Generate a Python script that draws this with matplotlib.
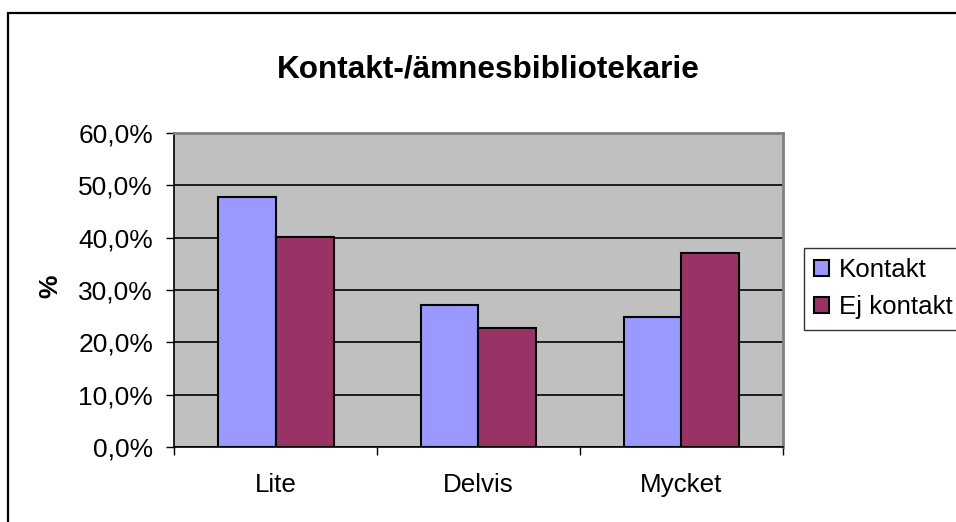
import matplotlib.pyplot as plt
import matplotlib.patches as patches
import numpy as np

# Data
categories = ['Lite', 'Delvis', 'Mycket']
kontakt = [47.7, 27.1, 24.8]
ej_kontakt = [40.1, 22.8, 37.0]
y_ticks = [0, 10, 20, 30, 40, 50, 60]
y_tick_labels = ['0,0%', '10,0%', '20,0%', '30,0%', '40,0%', '50,0%', '60,0%']

plt.rcParams['font.family'] = ['Liberation Sans', 'DejaVu Sans']

W, H = 956, 522
fig = plt.figure(figsize=(W / 100, H / 100), dpi=100)
fig.patch.set_facecolor('white')

# plot area in pixels: x 174..783, y 133..447
ax = fig.add_axes([174 / W, 1 - 447 / H, (783 - 174) / W, (447 - 133) / H])
ax.set_facecolor('#C0C0C0')

x = np.arange(len(categories))
bw = 1 / 3.5
ax.bar(x - bw / 2, kontakt, bw, color='#9999FF', edgecolor='black', linewidth=1.5,
       label='Kontakt', zorder=3)
ax.bar(x + bw / 2, ej_kontakt, bw, color='#993366', edgecolor='black', linewidth=1.5,
       label='Ej kontakt', zorder=3)

ax.set_xlim(-0.5, len(categories) - 0.5)
ax.set_ylim(0, 60)
ax.set_yticks(y_ticks)
ax.set_yticklabels(y_tick_labels, fontsize=19)
ax.yaxis.grid(True, color='black', linewidth=1.2, zorder=1)
ax.set_axisbelow(True)

# category labels between the tick marks
ax.set_xticks(x)
ax.set_xticklabels(categories, fontsize=18.7)
ax.tick_params(axis='x', length=0, pad=19)
ax.set_xticks(np.arange(len(categories) + 1) - 0.5, minor=True)
ax.tick_params(axis='x', which='minor', length=6, width=1, direction='out')
ax.tick_params(axis='y', length=6, width=1, direction='out', pad=9)

ax.spines['left'].set_color('black')
ax.spines['bottom'].set_color('black')
ax.spines['left'].set_linewidth(1.2)
ax.spines['bottom'].set_linewidth(1.2)
ax.spines['top'].set_color('#808080')
ax.spines['right'].set_color('#808080')
ax.spines['top'].set_linewidth(2)
ax.spines['right'].set_linewidth(2)

fig.text(488 / W, 1 - 77 / H, 'Kontakt-/ämnesbibliotekarie', fontsize=22.7,
         fontweight='bold', ha='center', va='baseline')
fig.text(50 / W, 1 - 286 / H, '%', fontsize=19, fontweight='bold', rotation=90,
         ha='center', va='center')

leg = fig.legend(loc='upper left', bbox_to_anchor=(804 / W, 1 - 248 / H),
                 borderaxespad=0, fontsize=18.6, frameon=True, fancybox=False,
                 edgecolor='black', handlelength=0.55, handleheight=0.55,
                 handletextpad=0.4, borderpad=0.4, labelspacing=0.5)
leg.get_frame().set_linewidth(1)

# outer chart frame
frame = patches.Rectangle((8 / W, -0.05), 1.0, 1 - 13 / H + 0.05, transform=fig.transFigure,
                          fill=False, edgecolor='black', linewidth=1.6, clip_on=False)
fig.patches.append(frame)

fig.savefig('out.png', dpi=100)
